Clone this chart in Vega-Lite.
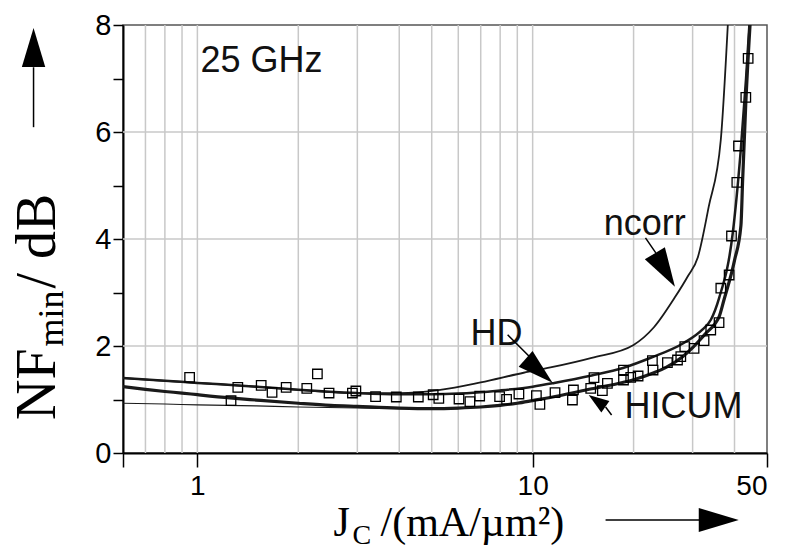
{
  "$schema": "https://vega.github.io/schema/vega-lite/v6.json",
  "autosize": {"type": "none"},
  "padding": {"left": 123, "top": 25, "right": 21, "bottom": 97},
  "width": 644,
  "height": 428,
  "background": "white",
  "config": {"view": {"stroke": "#555", "strokeWidth": 1.5}},
  "datasets": {
    "curves": [
      {"series": "lower", "x": 0.6, "y": 0.93}, {"series": "lower", "x": 0.8, "y": 0.915}, {"series": "lower", "x": 1, "y": 0.9}, {"series": "lower", "x": 1.5, "y": 0.88}, {"series": "lower", "x": 2, "y": 0.86}, {"series": "lower", "x": 3, "y": 0.84}, {"series": "lower", "x": 4, "y": 0.83}, {"series": "lower", "x": 6, "y": 0.83},
      {"series": "HD", "x": 0.6, "y": 1.4}, {"series": "HD", "x": 0.8, "y": 1.35}, {"series": "HD", "x": 1, "y": 1.31}, {"series": "HD", "x": 1.5, "y": 1.24}, {"series": "HD", "x": 2, "y": 1.18}, {"series": "HD", "x": 3, "y": 1.12}, {"series": "HD", "x": 4, "y": 1.1}, {"series": "HD", "x": 5, "y": 1.1}, {"series": "HD", "x": 6, "y": 1.11}, {"series": "HD", "x": 8, "y": 1.17}, {"series": "HD", "x": 10, "y": 1.24}, {"series": "HD", "x": 11.6, "y": 1.31}, {"series": "HD", "x": 15, "y": 1.45}, {"series": "HD", "x": 18.6, "y": 1.59}, {"series": "HD", "x": 22.5, "y": 1.78}, {"series": "HD", "x": 28.3, "y": 2.06}, {"series": "HD", "x": 32, "y": 2.3}, {"series": "HD", "x": 34, "y": 2.49}, {"series": "HD", "x": 36, "y": 2.9}, {"series": "HD", "x": 39.5, "y": 4.1}, {"series": "HD", "x": 41.8, "y": 5.7}, {"series": "HD", "x": 43.3, "y": 7.0}, {"series": "HD", "x": 44.3, "y": 8.0},
      {"series": "ncorr", "x": 0.6, "y": 1.4}, {"series": "ncorr", "x": 0.8, "y": 1.35}, {"series": "ncorr", "x": 1, "y": 1.31}, {"series": "ncorr", "x": 1.5, "y": 1.24}, {"series": "ncorr", "x": 2, "y": 1.18}, {"series": "ncorr", "x": 3, "y": 1.12}, {"series": "ncorr", "x": 4, "y": 1.12}, {"series": "ncorr", "x": 5.3, "y": 1.18}, {"series": "ncorr", "x": 7, "y": 1.32}, {"series": "ncorr", "x": 9.4, "y": 1.5}, {"series": "ncorr", "x": 11.3, "y": 1.6}, {"series": "ncorr", "x": 15, "y": 1.78}, {"series": "ncorr", "x": 20, "y": 2.02}, {"series": "ncorr", "x": 23, "y": 2.35}, {"series": "ncorr", "x": 26.5, "y": 2.9}, {"series": "ncorr", "x": 29, "y": 3.3}, {"series": "ncorr", "x": 31.1, "y": 3.66}, {"series": "ncorr", "x": 33.5, "y": 4.6}, {"series": "ncorr", "x": 36.4, "y": 5.85}, {"series": "ncorr", "x": 38.2, "y": 8.0},
      {"series": "HICUM", "x": 0.6, "y": 1.24}, {"series": "HICUM", "x": 0.7, "y": 1.19}, {"series": "HICUM", "x": 0.8, "y": 1.15}, {"series": "HICUM", "x": 0.9, "y": 1.12}, {"series": "HICUM", "x": 1, "y": 1.09}, {"series": "HICUM", "x": 1.25, "y": 1.03}, {"series": "HICUM", "x": 1.5, "y": 0.99}, {"series": "HICUM", "x": 2, "y": 0.93}, {"series": "HICUM", "x": 2.5, "y": 0.89}, {"series": "HICUM", "x": 3, "y": 0.87}, {"series": "HICUM", "x": 4, "y": 0.84}, {"series": "HICUM", "x": 5, "y": 0.83}, {"series": "HICUM", "x": 6, "y": 0.84}, {"series": "HICUM", "x": 7, "y": 0.86}, {"series": "HICUM", "x": 8, "y": 0.89}, {"series": "HICUM", "x": 9, "y": 0.93}, {"series": "HICUM", "x": 10, "y": 0.98}, {"series": "HICUM", "x": 12, "y": 1.07}, {"series": "HICUM", "x": 15, "y": 1.2}, {"series": "HICUM", "x": 18, "y": 1.3}, {"series": "HICUM", "x": 20, "y": 1.37}, {"series": "HICUM", "x": 23, "y": 1.5}, {"series": "HICUM", "x": 25, "y": 1.6}, {"series": "HICUM", "x": 28, "y": 1.8}, {"series": "HICUM", "x": 30, "y": 1.97}, {"series": "HICUM", "x": 33, "y": 2.25}, {"series": "HICUM", "x": 35, "y": 2.42}, {"series": "HICUM", "x": 36, "y": 2.55}, {"series": "HICUM", "x": 37.2, "y": 2.86}, {"series": "HICUM", "x": 40, "y": 3.6}, {"series": "HICUM", "x": 41.8, "y": 4.25}, {"series": "HICUM", "x": 42.3, "y": 5.1}, {"series": "HICUM", "x": 43.2, "y": 6.5}, {"series": "HICUM", "x": 44.5, "y": 8.0}
    ],
    "measured": [
      {"x": 0.948, "y": 1.415}, {"x": 1.26, "y": 0.977}, {"x": 1.32, "y": 1.228}, {"x": 1.55, "y": 1.265}, {"x": 1.67, "y": 1.134}, {"x": 1.84, "y": 1.228}, {"x": 2.12, "y": 1.209}, {"x": 2.28, "y": 1.477}, {"x": 2.47, "y": 1.121}, {"x": 2.9, "y": 1.121}, {"x": 2.97, "y": 1.159}, {"x": 3.4, "y": 1.053}, {"x": 3.92, "y": 1.047}, {"x": 4.56, "y": 1.047}, {"x": 5.05, "y": 1.089}, {"x": 5.25, "y": 1.022},
      {"x": 6.03, "y": 1.009}, {"x": 6.5, "y": 0.959}, {"x": 6.95, "y": 1.065}, {"x": 7.97, "y": 1.053}, {"x": 8.36, "y": 1.004}, {"x": 9.1, "y": 1.103}, {"x": 10.26, "y": 1.071}, {"x": 10.51, "y": 0.91}, {"x": 11.66, "y": 1.127}, {"x": 13.14, "y": 0.991}, {"x": 13.23, "y": 1.178}, {"x": 14.9, "y": 1.209}, {"x": 16.14, "y": 1.165}, {"x": 15.24, "y": 1.408}, {"x": 16.71, "y": 1.303}, {"x": 18.66, "y": 1.551}, {"x": 18.66, "y": 1.364}, {"x": 19.61, "y": 1.415}, {"x": 20.63, "y": 1.439}, {"x": 22.76, "y": 1.725}, {"x": 22.86, "y": 1.551}, {"x": 25.23, "y": 1.688}, {"x": 27.04, "y": 1.738}, {"x": 27.66, "y": 1.8}, {"x": 28.43, "y": 1.987}, {"x": 30.3, "y": 1.956}, {"x": 32.45, "y": 2.099}, {"x": 33.98, "y": 2.299}, {"x": 35.97, "y": 2.436},
      {"x": 36.41, "y": 3.08}, {"x": 38.55, "y": 3.327}, {"x": 39.18, "y": 4.056}, {"x": 40.64, "y": 5.06}, {"x": 41.11, "y": 5.738}, {"x": 43.23, "y": 6.648}, {"x": 43.93, "y": 7.377}
    ],
    "vgrid": [
      {"x": 0.7}, {"x": 0.8}, {"x": 0.9}, {"x": 1}, {"x": 2}, {"x": 3}, {"x": 4}, {"x": 5}, {"x": 6}, {"x": 7}, {"x": 8}, {"x": 9}, {"x": 10}, {"x": 20}, {"x": 30}, {"x": 40}
    ],
    "hgrid": [{"y": 2}, {"y": 4}, {"y": 6}]
  },
  "layer": [
    {
      "data": {"name": "vgrid"},
      "mark": {"type": "rule", "color": "#c8c8c8", "strokeWidth": 1.5},
      "encoding": {
        "x": {"field": "x", "type": "quantitative", "scale": {"type": "log", "domain": [0.6, 50], "nice": false},
          "axis": {"values": [0.6, 1, 10, 50], "labelExpr": "datum.value < 0.9 ? '' : format(datum.value, '~g')", "grid": false, "title": null,
            "domainColor": "black", "domainWidth": 2, "tickColor": "black", "tickWidth": 1.5, "tickSize": 14,
            "labelFont": "Liberation Sans", "labelFontSize": 28, "labelColor": "black", "labelPadding": 5}}
      }
    },
    {
      "data": {"name": "hgrid"},
      "mark": {"type": "rule", "color": "#c8c8c8", "strokeWidth": 1.5},
      "encoding": {
        "y": {"field": "y", "type": "quantitative", "scale": {"domain": [0, 8], "nice": false},
          "axis": {"values": [0, 1, 2, 3, 4, 5, 6, 7, 8], "labelExpr": "datum.value % 2 == 0 ? datum.label : ''", "grid": false, "title": null,
            "domainColor": "black", "domainWidth": 2, "tickColor": "black", "tickWidth": 1.5, "tickSize": 10,
            "labelFont": "Liberation Sans", "labelFontSize": 29, "labelColor": "black", "labelPadding": 2}}
      }
    },
    {
      "data": {"name": "curves"},
      "mark": {"type": "line", "color": "#1a1a1a", "clip": true, "interpolate": "monotone"},
      "encoding": {
        "x": {"field": "x", "type": "quantitative"},
        "y": {"field": "y", "type": "quantitative"},
        "detail": {"field": "series"},
        "strokeWidth": {"field": "series", "type": "nominal", "scale": {"domain": ["HICUM", "HD", "ncorr", "lower"], "range": [3.2, 1.1, 1.1, 1.1]}, "legend": null}
      }
    },
    {
      "data": {"name": "measured"},
      "mark": {"type": "point", "shape": "square", "size": 90, "filled": false, "stroke": "black", "strokeWidth": 1.3, "opacity": 1},
      "encoding": {
        "x": {"field": "x", "type": "quantitative"},
        "y": {"field": "y", "type": "quantitative"}
      }
    },
    {
      "data": {"values": [
        {"x": 1.021, "y": 7.12, "t": "25 GHz"},
        {"x": 16.3, "y": 4.07, "t": "ncorr"},
        {"x": 6.53, "y": 2.02, "t": "HD"},
        {"x": 18.8, "y": 0.654, "t": "HICUM"}
      ]},
      "mark": {"type": "text", "font": "Liberation Sans", "fontSize": 36, "align": "left", "baseline": "alphabetic", "color": "#111"},
      "encoding": {"x": {"field": "x", "type": "quantitative"}, "y": {"field": "y", "type": "quantitative"}, "text": {"field": "t"}}
    },
    {
      "data": {"values": [
        {"x": 8.42, "y": 2.21, "x2": 9.86, "y2": 1.78},
        {"x": 21.7, "y": 4.02, "x2": 23.3, "y2": 3.74},
        {"x": 16.5, "y": 0.86, "x2": 17.2, "y2": 0.71},
        {"x": 16.5, "y": -1.252, "x2": 31.7, "y2": -1.252},
        {"x": 0.3246, "y": 6.09, "x2": 0.3246, "y2": 7.21}
      ]},
      "mark": {"type": "rule", "color": "black", "strokeWidth": 1.5},
      "encoding": {"x": {"field": "x", "type": "quantitative"}, "y": {"field": "y", "type": "quantitative"}, "x2": {"field": "x2"}, "y2": {"field": "y2"}}
    },
    {
      "data": {"values": [{"x": 10.45, "y": 1.535}]},
      "mark": {"type": "point", "shape": "M0,-1L0.58,1L-0.58,1Z", "size": 1296, "angle": 131.6, "filled": true, "color": "black", "opacity": 1},
      "encoding": {"x": {"field": "x", "type": "quantitative"}, "y": {"field": "y", "type": "quantitative"}}
    },
    {
      "data": {"values": [{"x": 24.8, "y": 3.42}]},
      "mark": {"type": "point", "shape": "M0,-1L0.6,1L-0.6,1Z", "size": 1521, "angle": 149, "filled": true, "color": "black", "opacity": 1},
      "encoding": {"x": {"field": "x", "type": "quantitative"}, "y": {"field": "y", "type": "quantitative"}}
    },
    {
      "data": {"values": [{"x": 15.56, "y": 0.975}]},
      "mark": {"type": "point", "shape": "M0,-1L0.69,1L-0.69,1Z", "size": 416, "angle": 305, "filled": true, "color": "black", "opacity": 1},
      "encoding": {"x": {"field": "x", "type": "quantitative"}, "y": {"field": "y", "type": "quantitative"}}
    },
    {
      "data": {"values": [{"x": 35.9, "y": -1.252}]},
      "mark": {"type": "point", "shape": "M0,-1L0.6,1L-0.6,1Z", "size": 1600, "angle": 90, "filled": true, "color": "black", "opacity": 1},
      "encoding": {"x": {"field": "x", "type": "quantitative"}, "y": {"field": "y", "type": "quantitative"}}
    },
    {
      "data": {"values": [{"x": 0.3246, "y": 7.58}]},
      "mark": {"type": "point", "shape": "M0,-1L0.6,1L-0.6,1Z", "size": 1521, "angle": 0, "filled": true, "color": "black", "opacity": 1},
      "encoding": {"x": {"field": "x", "type": "quantitative"}, "y": {"field": "y", "type": "quantitative"}}
    },
    {
      "data": {"values": [
        {"x": 2.547, "y": -1.56, "t": "J"},
        {"x": 3.518, "y": -1.56, "t": "/(mA/µm²)"}
      ]},
      "mark": {"type": "text", "font": "Liberation Serif", "fontSize": 42, "align": "left", "baseline": "alphabetic", "color": "black"},
      "encoding": {"x": {"field": "x", "type": "quantitative"}, "y": {"field": "y", "type": "quantitative"}, "text": {"field": "t"}}
    },
    {
      "data": {"values": [{"x": 2.9, "y": -1.7, "t": "C"}]},
      "mark": {"type": "text", "font": "Liberation Serif", "fontSize": 28, "align": "left", "baseline": "alphabetic", "color": "black"},
      "encoding": {"x": {"field": "x", "type": "quantitative"}, "y": {"field": "y", "type": "quantitative"}, "text": {"field": "t"}}
    },
    {
      "data": {"values": [
        {"x": 0.3768, "y": 0.617, "t": "NF"},
        {"x": 0.3768, "y": 3.075, "t": " / dB"}
      ]},
      "mark": {"type": "text", "font": "Liberation Serif", "fontSize": 56, "align": "left", "baseline": "alphabetic", "angle": 270, "color": "black"},
      "encoding": {"x": {"field": "x", "type": "quantitative"}, "y": {"field": "y", "type": "quantitative"}, "text": {"field": "t"}}
    },
    {
      "data": {"values": [{"x": 0.398, "y": 1.991, "t": "min"}]},
      "mark": {"type": "text", "font": "Liberation Serif", "fontSize": 36, "align": "left", "baseline": "alphabetic", "angle": 270, "color": "black"},
      "encoding": {"x": {"field": "x", "type": "quantitative"}, "y": {"field": "y", "type": "quantitative"}, "text": {"field": "t"}}
    }
  ]
}
